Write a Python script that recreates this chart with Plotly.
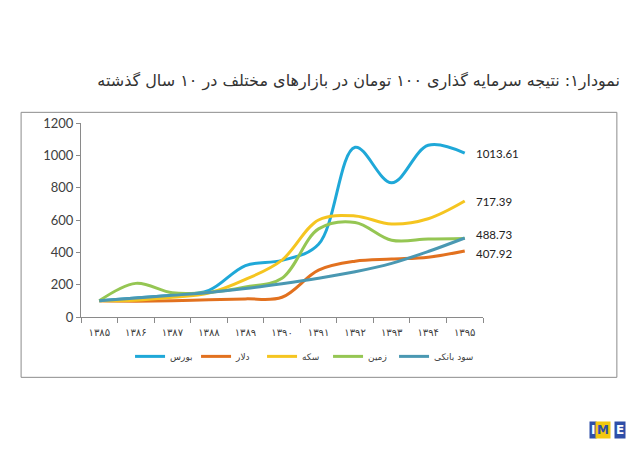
import plotly.graph_objects as go

# years (Persian digits) and index values of 100 toman invested in 1385
years = ["۱۳۸۵", "۱۳۸۶", "۱۳۸۷", "۱۳۸۸", "۱۳۸۹", "۱۳۹۰", "۱۳۹۱", "۱۳۹۲", "۱۳۹۳", "۱۳۹۴", "۱۳۹۵"]
bourse = [100, 118, 135, 165, 318, 350, 450, 1050, 830, 1062, 1013.61]
dollar = [100, 98, 100, 106, 112, 122, 290, 345, 358, 370, 407.92]
coin = [100, 104, 122, 148, 232, 352, 600, 625, 575, 608, 717.39]
land = [100, 208, 150, 152, 185, 240, 545, 585, 475, 482, 486]
bank = [100, 117, 134, 152, 176, 206, 240, 280, 332, 405, 488.73]

names = ["بورس", "دلار", "سکه", "زمین", "سود بانکی"]
series = [bourse, dollar, coin, land, bank]
colors = ["#1fa8d8", "#e2711f", "#f5c520", "#95c653", "#4a98b2"]
label_shift = [0, -2, 0, None, 3]  # None = no end label

fig = go.Figure()
for name, vals, col, ys in zip(names, series, colors, label_shift):
    fig.add_trace(go.Scatter(
        x=years, y=vals, name=name, mode="lines",
        line=dict(color=col, width=3, shape="spline", smoothing=1),
    ))
    if ys is not None:
        fig.add_annotation(x=years[-1], y=vals[-1], text=f"{vals[-1]:.2f}",
                           showarrow=False, xanchor="left", xshift=9, yshift=ys,
                           font=dict(size=11.5, color="#222222"))

# spacer entry so the last legend text is not clipped
fig.add_trace(go.Scatter(x=[years[0]], y=[None], name="\u00a0", mode="lines",
                         line=dict(color="rgba(0,0,0,0)", width=0), hoverinfo="skip"))

# page has an 8px body margin, so margins are shifted by 8
fig.update_layout(
    width=643, height=449,
    margin=dict(l=73, r=168, t=115, b=140),
    paper_bgcolor="white", plot_bgcolor="white",
    font=dict(family="Lato, DejaVu Sans, sans-serif", color="#404040"),
    title=dict(
        text="نمودار۱: نتیجه سرمایه گذاری ۱۰۰ تومان در بازارهای مختلف در ۱۰ سال گذشته",
        xref="container", x=612 / 643, xanchor="right",
        yref="container", y=1 - 72 / 449, yanchor="middle",
        font=dict(family="DejaVu Sans, sans-serif", size=16, color="#333333"),
    ),
    showlegend=True,
    legend=dict(
        orientation="h", x=0.122, xanchor="left", y=-0.203, yanchor="middle",
        font=dict(family="DejaVu Sans, sans-serif", size=9, color="#404040"),
        entrywidth=21, entrywidthmode="pixels", tracegroupgap=0,
        bgcolor="rgba(0,0,0,0)",
    ),
)

fig.update_xaxes(
    type="category", range=[-0.5, 10.5], showgrid=False,
    showline=True, linecolor="#8a8a8a", linewidth=1,
    ticks="outside", tickson="boundaries", ticklen=5, tickcolor="#8a8a8a",
    ticklabelstandoff=6,
    tickfont=dict(family="DejaVu Sans, sans-serif", size=10, color="#404040"),
)
fig.update_yaxes(
    range=[0, 1200], dtick=200, showgrid=False, zeroline=False,
    showline=True, linecolor="#8a8a8a", linewidth=1,
    ticks="outside", ticklen=4, tickcolor="#8a8a8a",
    tickfont=dict(size=13, color="#404040"),
)

# outer frame around chart
fig.add_shape(type="rect", xref="paper", yref="paper",
              x0=-0.149, x1=1.333, y0=-0.311, y1=1.055,
              line=dict(color="#8c8c8c", width=1), fillcolor="rgba(0,0,0,0)", layer="below")

# IME logo
logo = [("I", "#2f4fa8"), ("M", "#f2c80f"), ("E", "#2f4fa8")]
for i, (ch, bg) in enumerate(logo):
    fig.add_annotation(xref="paper", yref="paper", x=1.283 + i * 0.036, y=-0.63,
                       text=f"<b>{ch}</b>", showarrow=False,
                       font=dict(family="DejaVu Sans, sans-serif", size=12,
                                 color="white" if bg != "#f2c80f" else "#2f4fa8"),
                       bgcolor=bg, borderpad=1)

fig.write_html("out.html")
